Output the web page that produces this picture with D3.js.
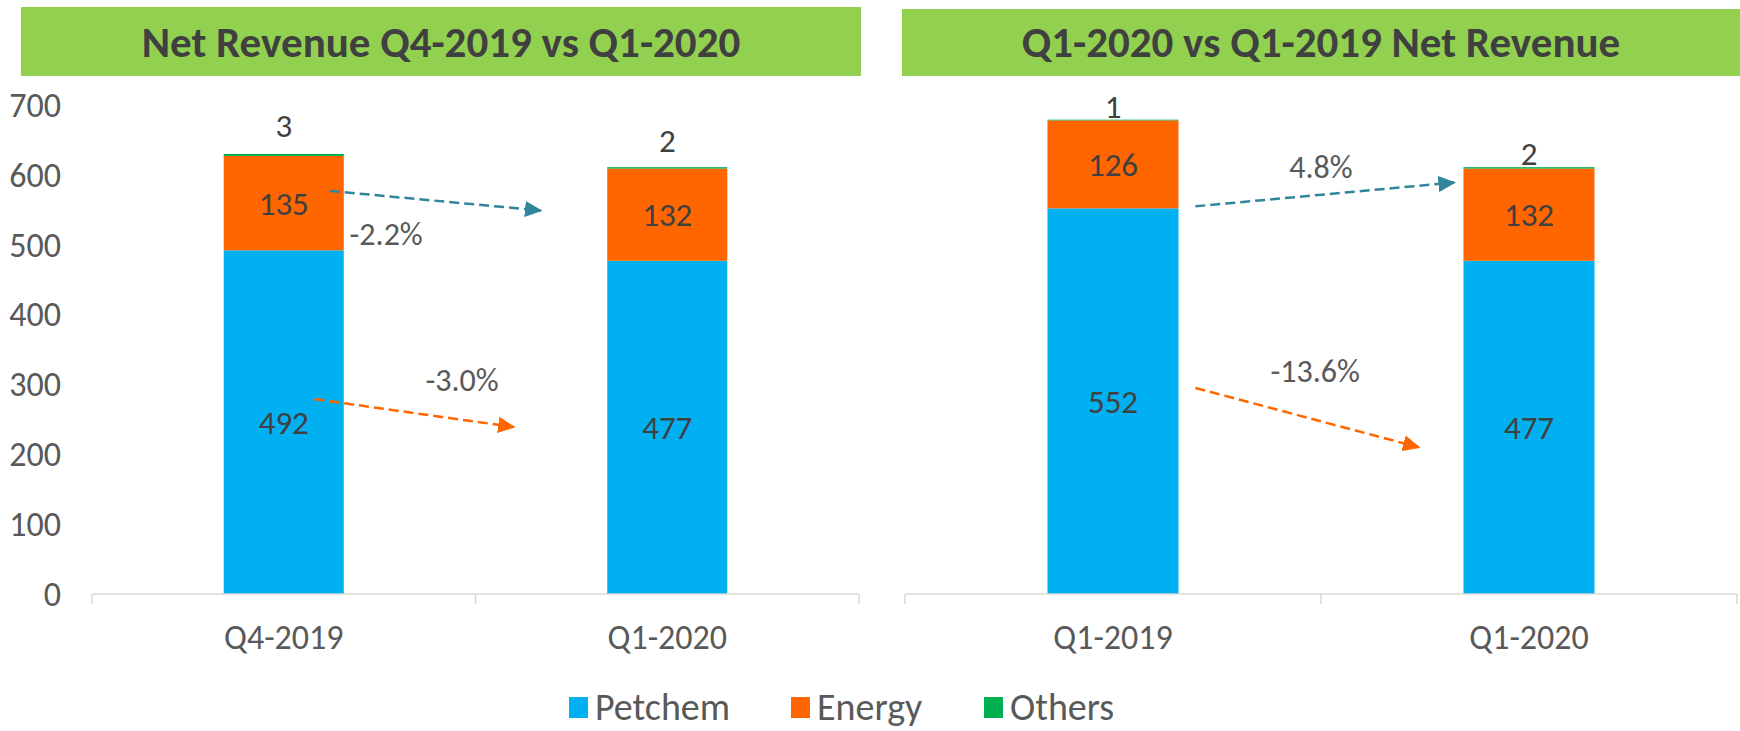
<!DOCTYPE html>
<html>
<head>
<meta charset="utf-8">
<script src="https://cdn.jsdelivr.net/npm/d3@7"></script>
<style>
  body { margin: 0; background: #fff; }
  svg { display: block; font-family: Carlito, "Liberation Sans Narrow", "Open Sans", sans-serif; }
</style>
</head>
<body>
<div id="chart"></div>
<script>
// series and categories
var seriesNames = ["Petchem", "Energy", "Others"];
var seriesColors = ["#00b0f0", "#ff6600", "#00b050"];

var leftTitle = "Net Revenue Q4-2019 vs Q1-2020";
var leftCategories = ["Q4-2019", "Q1-2020"];
var leftPetchem = [492, 477];
var leftEnergy = [135, 132];
var leftOthers = [3, 2];
var leftChanges = ["-2.2%", "-3.0%"];

var rightTitle = "Q1-2020 vs Q1-2019 Net Revenue";
var rightCategories = ["Q1-2019", "Q1-2020"];
var rightPetchem = [552, 477];
var rightEnergy = [126, 132];
var rightOthers = [1, 2];
var rightChanges = ["4.8%", "-13.6%"];

var yTicks = [0, 100, 200, 300, 400, 500, 600, 700];

var W = 1740, H = 731;

var svg = d3.select("#chart").append("svg")
    .attr("width", W)
    .attr("height", H);

var y = d3.scaleLinear()
    .domain([0, 700])
    .range([594, 105]);

// panel layout (positions only, no values)
var panels = [
    {
        title: leftTitle, categories: leftCategories,
        values: [leftPetchem, leftEnergy, leftOthers], changes: leftChanges,
        band: [21, 861, 7, 76], range: [92, 859], barRatio: 0.313,
        showAxis: true, othersOffset: [28, 27],
        // arrows: t = position between bar centers, v = value on y scale
        arrows: [
            { t0: 0.12, v0: 577, t1: 0.67, v1: 549, color: "#31869b" },
            { t0: 0.08, v0: 279, t1: 0.60, v1: 239, color: "#ff6600" }
        ],
        changePos: [{ t: 0.267, v: 516 }, { t: 0.465, v: 306 }]
    },
    {
        title: rightTitle, categories: rightCategories,
        values: [rightPetchem, rightEnergy, rightOthers], changes: rightChanges,
        band: [902, 1740, 9, 76], range: [905, 1737], barRatio: 0.315,
        showAxis: false, othersOffset: [13, 14],
        arrows: [
            { t0: 0.198, v0: 555, t1: 0.82, v1: 589, color: "#31869b" },
            { t0: 0.198, v0: 295, t1: 0.735, v1: 210, color: "#ff6600" }
        ],
        changePos: [{ t: 0.50, v: 611 }, { t: 0.486, v: 320 }]
    }
];

var defs = svg.append("defs");
["#31869b", "#ff6600"].forEach(function (c, i) {
    defs.append("marker")
        .attr("id", "arrow" + i)
        .attr("viewBox", "0 0 10 10")
        .attr("refX", 9)
        .attr("refY", 5)
        .attr("markerWidth", 7)
        .attr("markerHeight", 6.5)
        .attr("markerUnits", "strokeWidth")
        .attr("orient", "auto")
        .attr("preserveAspectRatio", "none")
        .append("path")
        .attr("d", "M0,0 L10,5 L0,10 Z")
        .style("fill", c);
});

panels.forEach(function (p) {
    var g = svg.append("g");

    // title band
    g.append("rect")
        .attr("x", p.band[0])
        .attr("y", p.band[2])
        .attr("width", p.band[1] - p.band[0])
        .attr("height", p.band[3] - p.band[2])
        .style("fill", "#92d050");

    g.append("text")
        .attr("x", (p.band[0] + p.band[1]) / 2)
        .attr("y", 57)
        .attr("text-anchor", "middle")
        .style("font-size", "43px")
        .style("font-weight", "bold")
        .style("fill", "#404040")
        .text(p.title);

    var inner = 1 - p.barRatio;
    var x = d3.scaleBand()
        .domain(p.categories)
        .range(p.range)
        .paddingInner(inner)
        .paddingOuter(inner / 2);

    var stack = p.categories.map(function (c, i) {
        var y0 = 0;
        return p.values.map(function (s, k) {
            var seg = { cat: c, k: k, v: s[i], y0: y0, y1: y0 + s[i] };
            y0 += s[i];
            return seg;
        });
    });

    var bars = g.selectAll(".bar")
        .data(stack)
        .enter().append("g")
        .attr("class", "bar");

    bars.selectAll("rect")
        .data(function (d) { return d; })
        .enter().append("rect")
        .attr("x", function (d) { return x(d.cat); })
        .attr("width", x.bandwidth())
        .attr("y", function (d) { return y(d.y1); })
        .attr("height", function (d) { return y(d.y0) - y(d.y1); })
        .style("fill", function (d) { return seriesColors[d.k]; });

    // labels inside for Petchem / Energy, above for Others
    bars.selectAll("text")
        .data(function (d) { return d; })
        .enter().append("text")
        .attr("x", function (d) { return x(d.cat) + x.bandwidth() / 2; })
        .attr("y", function (d, i) {
            if (d.k < 2) return (y(d.y0) + y(d.y1)) / 2;
            return y(d.y1) - p.othersOffset[p.categories.indexOf(d.cat)];
        })
        .attr("dy", "0.35em")
        .attr("text-anchor", "middle")
        .style("font-size", "33px")
        .style("fill", "#404040")
        .text(function (d) { return d.v; });

    // x axis
    var axisY = y(0);
    g.append("line")
        .attr("x1", p.range[0]).attr("x2", p.range[1])
        .attr("y1", axisY).attr("y2", axisY)
        .style("stroke", "#d9d9d9")
        .style("stroke-width", 1.5);

    var bounds = [p.range[0]].concat(p.categories.map(function (c) { return x(c) + x.bandwidth() / 2 + x.step() / 2; }));
    g.selectAll(".xtick")
        .data(bounds)
        .enter().append("line")
        .attr("x1", function (d) { return d; })
        .attr("x2", function (d) { return d; })
        .attr("y1", axisY)
        .attr("y2", axisY + 10)
        .style("stroke", "#d9d9d9")
        .style("stroke-width", 1.5);

    g.selectAll(".xlabel")
        .data(p.categories)
        .enter().append("text")
        .attr("x", function (d) { return x(d) + x.bandwidth() / 2; })
        .attr("y", 637)
        .attr("dy", "0.35em")
        .attr("text-anchor", "middle")
        .style("font-size", "34px")
        .style("fill", "#595959")
        .text(function (d) { return d; });

    if (p.showAxis) {
        g.selectAll(".ytick")
            .data(yTicks)
            .enter().append("text")
            .attr("x", 61)
            .attr("y", function (d) { return y(d); })
            .attr("dy", "0.35em")
            .attr("text-anchor", "end")
            .style("font-size", "34px")
            .style("fill", "#595959")
            .text(function (d) { return d; });
    }

    // change arrows
    var c0 = x(p.categories[0]) + x.bandwidth() / 2;
    var c1 = x(p.categories[1]) + x.bandwidth() / 2;
    var tx = d3.scaleLinear().domain([0, 1]).range([c0, c1]);

    g.selectAll(".arrow")
        .data(p.arrows)
        .enter().append("line")
        .attr("x1", function (d) { return tx(d.t0); })
        .attr("y1", function (d) { return y(d.v0); })
        .attr("x2", function (d) { return tx(d.t1); })
        .attr("y2", function (d) { return y(d.v1); })
        .style("stroke", function (d) { return d.color; })
        .style("stroke-width", 2.5)
        .style("stroke-dasharray", "10,5")
        .attr("marker-end", function (d, i) { return "url(#arrow" + i + ")"; });

    g.selectAll(".change")
        .data(p.changes)
        .enter().append("text")
        .attr("x", function (d, i) { return tx(p.changePos[i].t); })
        .attr("y", function (d, i) { return y(p.changePos[i].v); })
        .attr("dy", "0.35em")
        .attr("text-anchor", "middle")
        .style("font-size", "32px")
        .style("fill", "#595959")
        .text(function (d) { return d; });
});

// legend
var legendX = [569, 791, 984];
var legend = svg.selectAll(".legend")
    .data(seriesNames)
    .enter().append("g")
    .attr("class", "legend")
    .attr("transform", function (d, i) { return "translate(" + legendX[i] + ",707)"; });

legend.append("rect")
    .attr("x", 0)
    .attr("y", -10)
    .attr("width", 19)
    .attr("height", 21)
    .style("fill", function (d, i) { return seriesColors[i]; });

legend.append("text")
    .attr("x", 26)
    .attr("y", 0)
    .attr("dy", "0.35em")
    .style("font-size", "38px")
    .style("fill", "#595959")
    .text(function (d) { return d; });
</script>
</body>
</html>
